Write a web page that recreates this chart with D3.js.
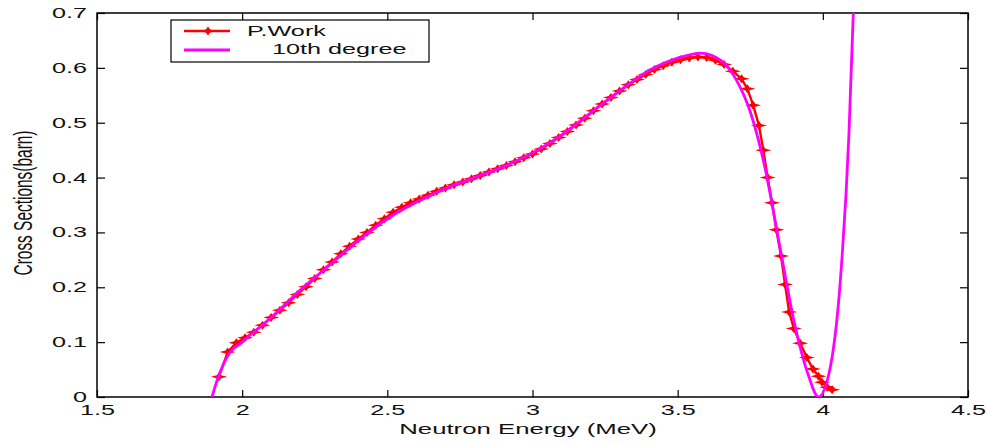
<!DOCTYPE html>
<meta charset="utf-8">
<head>
  <title>Cross sections vs neutron energy</title>
</head>

<style>
body { margin: 0; background: #fff; }
text {
  font-family: "Liberation Sans", Arial, sans-serif;
  fill: #111;
}
.tick text { font-size: 14px; }
</style>

<body>
  <svg width="987" height="443"></svg>

  <script src="https://cdnjs.cloudflare.com/ajax/libs/d3/7.8.5/d3.min.js"></script>
  <script>
// P.Work measured points
var workE = [1.92, 1.95, 1.98, 2.01, 2.04, 2.07, 2.10, 2.13, 2.16, 2.19, 2.22, 2.25, 2.28, 2.31, 2.34,
  2.37, 2.40, 2.43, 2.46, 2.49, 2.52, 2.55, 2.58, 2.61, 2.64, 2.67, 2.70, 2.73, 2.76, 2.79,
  2.82, 2.85, 2.88, 2.91, 2.94, 2.97, 3.00, 3.03, 3.06, 3.09, 3.12, 3.15, 3.18, 3.21, 3.24,
  3.27, 3.30, 3.33, 3.36, 3.39, 3.42, 3.45, 3.48, 3.51, 3.54, 3.57, 3.60, 3.63, 3.66, 3.69,
  3.72, 3.74, 3.76, 3.78, 3.795, 3.81, 3.825, 3.84, 3.856, 3.87, 3.884, 3.90, 3.922, 3.945,
  3.966, 3.985, 3.997, 4.015, 4.032];
var workS = [0.037, 0.082, 0.099, 0.108, 0.118, 0.131, 0.145, 0.158, 0.172, 0.187, 0.201, 0.216, 0.232, 0.246, 0.261,
  0.275, 0.288, 0.300, 0.313, 0.325, 0.337, 0.346, 0.354, 0.361, 0.368, 0.375, 0.381, 0.387, 0.392, 0.398,
  0.404, 0.410, 0.416, 0.422, 0.429, 0.436, 0.443, 0.452, 0.462, 0.473, 0.484, 0.496, 0.508, 0.522, 0.534,
  0.546, 0.558, 0.569, 0.579, 0.588, 0.597, 0.604, 0.610, 0.615, 0.618, 0.620, 0.619, 0.614, 0.606, 0.594,
  0.580, 0.562, 0.532, 0.495, 0.450, 0.400, 0.354, 0.305, 0.257, 0.205, 0.155, 0.125, 0.098, 0.072,
  0.051, 0.038, 0.027, 0.018, 0.013];

// 10th degree fit
var fitE = [1.896, 1.92, 1.95, 2.00, 2.10, 2.20, 2.30, 2.40, 2.50, 2.60, 2.70, 2.80, 2.90, 3.00,
  3.10, 3.20, 3.30, 3.40, 3.50, 3.58, 3.65, 3.70, 3.75, 3.80, 3.85, 3.90, 3.95, 3.985,
  4.02, 4.06, 4.09, 4.105, 4.115];
var fitS = [0.000, 0.040, 0.075, 0.100, 0.145, 0.195, 0.240, 0.285, 0.325, 0.355, 0.380, 0.400, 0.420, 0.445,
  0.478, 0.518, 0.558, 0.595, 0.618, 0.627, 0.613, 0.580, 0.520, 0.420, 0.280, 0.140, 0.040, 0.000,
  0.040, 0.210, 0.480, 0.700, 0.800];

var xTicks = [1.5, 2, 2.5, 3, 3.5, 4, 4.5];
var yTicks = [0, 0.1, 0.2, 0.3, 0.4, 0.5, 0.6, 0.7];

var margin = {left: 97, top: 13, right: 968, bottom: 397};
var w = margin.right - margin.left, h = margin.bottom - margin.top;
var stretch = 1.8; // the original text is drawn wide

var svg = d3.select('svg');

var x = d3.scaleLinear().domain([1.5, 4.5]).range([0, w]);
var y = d3.scaleLinear().domain([0, 0.7]).range([h, 0]);

svg.append('defs').append('clipPath').attr('id', 'plot')
  .append('rect').attr('width', w).attr('height', h);

var g = svg.append('g').attr('transform', 'translate(' + margin.left + ',' + margin.top + ')');

// axes with inward ticks on all four sides
function styleAxis(sel) {
  sel.select('.domain').remove();
  sel.selectAll('.tick line').attr('stroke', '#000').attr('stroke-width', 1.2);
}
g.append('g').attr('transform', 'translate(0,' + h + ')')
  .call(d3.axisBottom(x).tickValues(xTicks).tickSize(-7).tickPadding(8).tickFormat(d3.format('')))
  .call(styleAxis)
  .selectAll('.tick text')
  .attr('transform', 'scale(' + stretch + ',1)');
g.append('g')
  .call(d3.axisTop(x).tickValues(xTicks).tickSize(-7).tickFormat(''))
  .call(styleAxis);
g.append('g')
  .call(d3.axisLeft(y).tickValues(yTicks).tickSize(-8).tickFormat(d3.format('')))
  .call(styleAxis)
  .selectAll('.tick text')
  .attr('x', -10 / stretch)
  .attr('transform', 'scale(' + stretch + ',1)');
g.append('g').attr('transform', 'translate(' + w + ',0)')
  .call(d3.axisRight(y).tickValues(yTicks).tickSize(-8).tickFormat(''))
  .call(styleAxis);

g.append('rect')
  .attr('width', w).attr('height', h)
  .attr('fill', 'none').attr('stroke', '#000').attr('stroke-width', 1.5);

// star marker, wide and flat
var star = 'M-8,0L-2.2,-1.5L0,-4.5L2.2,-1.5L8,0L2.2,1.5L0,4.5L-2.2,1.5Z';

var work = workE.map(function(e, i) { return [e, workS[i]]; });
var fit = fitE.map(function(e, i) { return [e, fitS[i]]; });

var plot = g.append('g').attr('clip-path', 'url(#plot)');

plot.append('path')
  .datum(work)
  .attr('fill', 'none')
  .attr('stroke', '#ff0000')
  .attr('stroke-width', 2.4)
  .attr('d', d3.line().x(function(d) { return x(d[0]); }).y(function(d) { return y(d[1]); }));

plot.selectAll('.mark')
  .data(work)
  .enter()
  .append('path')
  .attr('class', 'mark')
  .attr('transform', function(d) { return 'translate(' + x(d[0]) + ',' + y(d[1]) + ')'; })
  .attr('d', star)
  .attr('fill', '#ff0000');

plot.append('path')
  .datum(fit)
  .attr('fill', 'none')
  .attr('stroke', '#ff00ff')
  .attr('stroke-width', 2.8)
  .attr('d', d3.line().curve(d3.curveMonotoneX)
    .x(function(d) { return x(d[0]); }).y(function(d) { return y(d[1]); }));

// axis titles
svg.append('text')
  .attr('transform', 'translate(528,434) scale(1.84,1)')
  .attr('text-anchor', 'middle')
  .style('font-size', '14px')
  .text('Neutron Energy (MeV)');

svg.append('text')
  .attr('transform', 'translate(32,203) scale(' + stretch + ',1) rotate(-90)')
  .attr('text-anchor', 'middle')
  .attr('textLength', 145)
  .attr('lengthAdjust', 'spacingAndGlyphs')
  .style('font-size', '14px')
  .text('Cross Sections(barn)');

// legend
var lg = svg.append('g').attr('transform', 'translate(171,20)');
lg.append('rect')
  .attr('width', 258).attr('height', 42)
  .attr('fill', '#fff').attr('stroke', '#000').attr('stroke-width', 1.2);
lg.append('line').attr('x1', 13).attr('x2', 59).attr('y1', 11).attr('y2', 11)
  .attr('stroke', '#ff0000').attr('stroke-width', 2.4);
lg.append('path').attr('transform', 'translate(37,11)').attr('d', star).attr('fill', '#ff0000');
lg.append('line').attr('x1', 13).attr('x2', 59).attr('y1', 30).attr('y2', 30)
  .attr('stroke', '#ff00ff').attr('stroke-width', 2.8);
lg.append('text').attr('transform', 'translate(76,16) scale(' + stretch + ',1)')
  .style('font-size', '14px').text('P.Work');
lg.append('text').attr('transform', 'translate(101,34) scale(' + stretch + ',1)')
  .style('font-size', '14px').text('10th degree');
  </script>
</body>
</html>
